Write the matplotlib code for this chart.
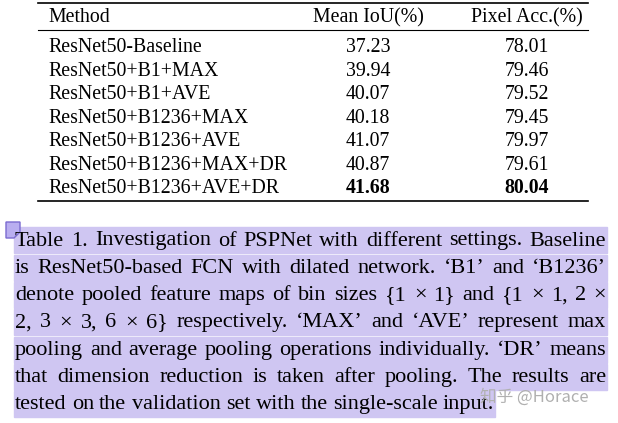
import matplotlib
matplotlib.use("Agg")
import matplotlib.pyplot as plt
from matplotlib.patches import Rectangle, Polygon

methods = ["ResNet50-Baseline", "ResNet50+B1+MAX", "ResNet50+B1+AVE", "ResNet50+B1236+MAX",
           "ResNet50+B1236+AVE", "ResNet50+B1236+MAX+DR", "ResNet50+B1236+AVE+DR"]
miou = ["37.23", "39.94", "40.07", "40.18", "41.07", "40.87", "41.68"]
pacc = ["78.01", "79.46", "79.52", "79.45", "79.97", "79.61", "80.04"]
headers = ["Method", "Mean IoU(%)", "Pixel Acc.(%)"]
caption = [
    "Table 1. Investigation of PSPNet with different settings. Baseline",
    "is ResNet50-based FCN with dilated network. ‘B1’ and ‘B1236’",
    "denote pooled feature maps of bin sizes {1 × 1} and {1 × 1, 2 ×",
    "2, 3 × 3, 6 × 6} respectively. ‘MAX’ and ‘AVE’ represent max",
    "pooling and average pooling operations individually. ‘DR’ means",
    "that dimension reduction is taken after pooling. The results are",
    "tested on the validation set with the single-scale input.",
]

serif = "Liberation Serif"
fig = plt.figure(figsize=(6.18, 4.23), dpi=100)
ax = fig.add_axes([0, 0, 1, 1])
ax.set_xlim(0, 618)
ax.set_ylim(423, 0)
ax.axis("off")

# table
tfs = 14.3
for y, lw in [(3, 1.2), (30, 0.8), (201, 1.2)]:
    ax.plot([38, 588], [y, y], color="black", lw=lw)
ax.text(48, 18, headers[0], fontsize=tfs, family=serif, va="center")
ax.text(368, 18, headers[1], fontsize=tfs, family=serif, va="center", ha="center")
ax.text(527, 18, headers[2], fontsize=tfs, family=serif, va="center", ha="center")
for i, (m, a, b) in enumerate(zip(methods, miou, pacc)):
    y = 48 + i * 23.4
    w = "bold" if i == len(methods) - 1 else "normal"
    ax.text(48, y, m, fontsize=tfs, family=serif, va="center")
    ax.text(368, y, a, fontsize=tfs, family=serif, va="center", ha="center", weight=w)
    ax.text(527, y, b, fontsize=tfs, family=serif, va="center", ha="center", weight=w)

# caption, justified
fig.canvas.draw()
r = fig.canvas.get_renderer()
left, right = 15, 606
fs = 16.0
for i, line in enumerate(caption):
    y = 241 + i * 27.3
    last = i == len(caption) - 1
    words = line.split(" ")
    ts = [ax.text(0, y, wd, fontsize=fs, family=serif, va="center") for wd in words]
    ws = [t.get_window_extent(r).width for t in ts]
    if last:
        gap = fs * 0.33
    else:
        gap = (right - left - sum(ws)) / (len(words) - 1)
    x = left
    for t, wd in zip(ts, ws):
        t.set_x(x)
        x += wd + gap
    end = right if not last else x - gap
    ax.add_patch(Rectangle((left - 1, y - 13.5), end - left + 2, 26, color="#cfc6f2", zorder=0))

ax.add_patch(Polygon([[6, 222], [20, 222], [20, 232], [14, 238], [6, 238]], closed=True,
                     facecolor="#b9aef0", edgecolor="#7a6bd0", lw=1))
ax.text(480, 397, "知乎 @Horace", fontsize=12, color="#b0b0b0", va="center",
        family=["Noto Sans CJK SC", "DejaVu Sans"])

fig.savefig("out.png", dpi=100)
